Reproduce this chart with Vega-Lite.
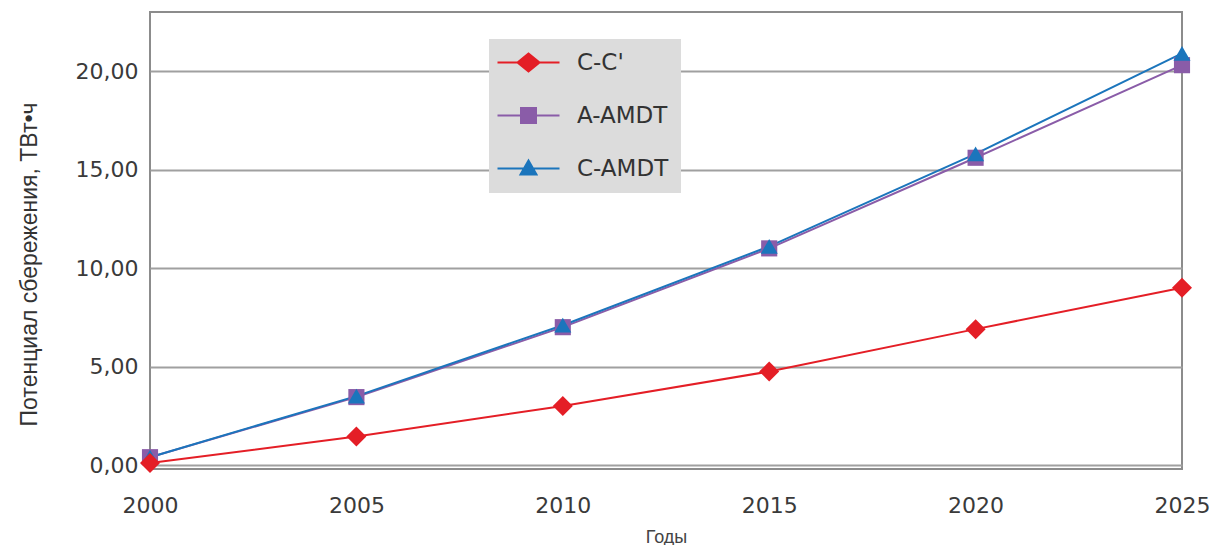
{
  "$schema": "https://vega.github.io/schema/vega-lite/v6.json",
  "width": 1032,
  "height": 457,
  "autosize": {"type": "none"},
  "padding": {"left": 150, "top": 12, "right": 31, "bottom": 76},
  "background": "white",
  "config": {
    "view": {"stroke": "#8c8c8c", "strokeWidth": 2},
    "font": "DejaVu Sans",
    "legend": {
      "title": null,
      "orient": "none",
      "legendX": 339,
      "legendY": 27,
      "fillColor": "#dcdcdc",
      "padding": 12,
      "rowPadding": 28,
      "labelFontSize": 23,
      "labelColor": "#333",
      "labelOffset": 37,
      "labelExpr": "datum.label + '     '",
      "symbolOffset": 16,
      "symbolSize": 100,
      "symbolStrokeWidth": 2,
      "symbolOpacity": 1
    }
  },
  "data": {
    "values": [
      {"year": 2000, "series": "A-AMDT", "value": 0.4},
      {"year": 2005, "series": "A-AMDT", "value": 3.45},
      {"year": 2010, "series": "A-AMDT", "value": 7.0},
      {"year": 2015, "series": "A-AMDT", "value": 11.0},
      {"year": 2020, "series": "A-AMDT", "value": 15.6},
      {"year": 2025, "series": "A-AMDT", "value": 20.3},
      {"year": 2000, "series": "C-AMDT", "value": 0.4},
      {"year": 2005, "series": "C-AMDT", "value": 3.5},
      {"year": 2010, "series": "C-AMDT", "value": 7.1},
      {"year": 2015, "series": "C-AMDT", "value": 11.1},
      {"year": 2020, "series": "C-AMDT", "value": 15.8},
      {"year": 2025, "series": "C-AMDT", "value": 20.9},
      {"year": 2000, "series": "C-C'", "value": 0.1},
      {"year": 2005, "series": "C-C'", "value": 1.45},
      {"year": 2010, "series": "C-C'", "value": 3.0},
      {"year": 2015, "series": "C-C'", "value": 4.75},
      {"year": 2020, "series": "C-C'", "value": 6.9},
      {"year": 2025, "series": "C-C'", "value": 9.0}
    ]
  },
  "encoding": {
    "x": {
      "field": "year",
      "type": "quantitative",
      "scale": {"domain": [2000, 2025], "nice": false, "zero": false},
      "axis": {
        "values": [2000, 2005, 2010, 2015, 2020, 2025],
        "format": "d",
        "title": "Годы",
        "titleFont": "Liberation Sans",
        "titleFontSize": 18,
        "titleFontWeight": "normal",
        "titleColor": "#444",
        "titlePadding": 12,
        "labelFontSize": 22,
        "labelColor": "#3a3a3a",
        "labelPadding": 26,
        "ticks": false,
        "domain": false,
        "grid": false,
        "labelFlush": false
      }
    },
    "y": {
      "field": "value",
      "type": "quantitative",
      "scale": {"domain": [-0.2, 23], "nice": false, "zero": false},
      "axis": {
        "values": [0, 5, 10, 15, 20],
        "labelExpr": "replace(format(datum.value, '.2f'), '.', ',')",
        "title": "Потенциал сбережения,  ТВт•ч",
        "titleFont": "Liberation Sans",
        "titleFontSize": 23,
        "titleFontWeight": "normal",
        "titleColor": "#333",
        "titlePadding": 34,
        "titleY": 252,
        "labelFontSize": 22,
        "labelColor": "#3a3a3a",
        "labelPadding": 12,
        "ticks": false,
        "domain": false,
        "grid": true,
        "gridColor": "#a0a0a0",
        "gridWidth": 2
      }
    },
    "color": {
      "field": "series",
      "type": "nominal",
      "scale": {
        "domain": ["C-C'", "A-AMDT", "C-AMDT"],
        "range": ["#e41e26", "#8a5ca8", "#1b75bc"]
      }
    }
  },
  "layer": [
    {
      "mark": {"type": "line", "strokeWidth": 2},
      "encoding": {
        "detail": {"field": "series"}
      }
    },
    {
      "transform": [{"filter": "datum.series === 'A-AMDT'"}],
      "mark": {"type": "point", "filled": true, "opacity": 1, "shape": "square", "size": 260}
    },
    {
      "transform": [{"filter": "datum.series === 'C-AMDT'"}],
      "mark": {"type": "point", "filled": true, "opacity": 1, "shape": "triangle-up", "size": 290}
    },
    {
      "transform": [{"filter": "datum.series === \"C-C'\""}],
      "mark": {"type": "point", "filled": true, "opacity": 1, "shape": "diamond", "size": 400}
    },
    {
      "mark": {"type": "point", "filled": true, "size": 0},
      "encoding": {
        "shape": {
          "field": "series",
          "type": "nominal",
          "scale": {
            "domain": ["C-C'", "A-AMDT", "C-AMDT"],
            "range": [
              "M-6.2,0H6.2M-2.2,0L0,-1.8L2.2,0L0,1.8Z",
              "M-6.2,0H6.2M-1.5,-1.5H1.5V1.5H-1.5Z",
              "M-6.2,0H6.2M-1.6,1.2L0,-1.6L1.6,1.2Z"
            ]
          }
        },
        "stroke": {
          "field": "series",
          "type": "nominal",
          "scale": {
            "domain": ["C-C'", "A-AMDT", "C-AMDT"],
            "range": ["#e41e26", "#8a5ca8", "#1b75bc"]
          }
        }
      }
    }
  ]
}
